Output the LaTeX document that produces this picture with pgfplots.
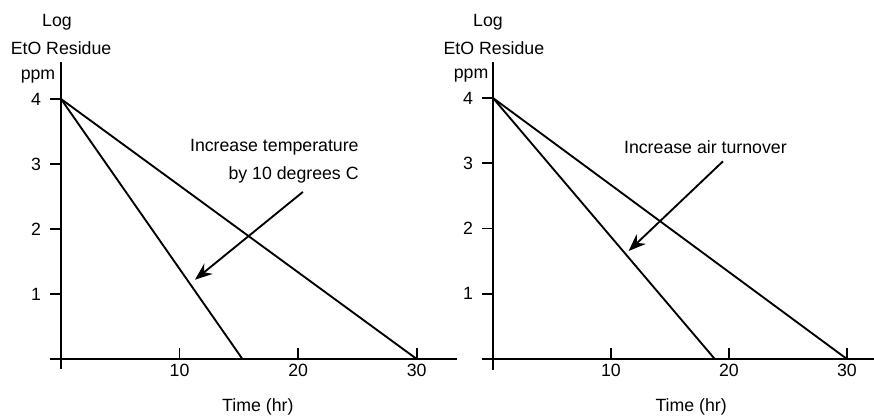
\documentclass[border=0pt]{standalone}
\usepackage{fontspec}
\setmainfont{Liberation Sans}
\usepackage{pgfplots}
\pgfplotsset{compat=1.18}
\usetikzlibrary{arrows.meta}

\newcommand{\lbl}{\fontsize{13.3}{15}\selectfont}

\pgfplotsset{
  eto/.style={
    scale only axis,
    axis lines=middle,
    axis line style={-, line width=1.3pt, black},
    clip=false,
    xtick={10,20,30},
    ytick={1,2,3,4},
    major tick length=8pt,
    tick style={line width=1.3pt, black},
    xtick style={yshift=4pt},
    ytick style={xshift=-4pt},
    xticklabel style={yshift=4pt},
    yticklabel style={xshift=-7.5pt},
    /pgf/number format/assume math mode=true,
    tick label style={font=\lbl, text=black},
  },
  decay/.style={black, line width=1.4pt, mark=none},
}
\tikzset{
  note/.style={font=\lbl, text=black},
  pointer/.style={line width=1.4pt, -{Stealth[length=13pt, width=10pt]}},
}

\begin{document}
\begin{tikzpicture}
\path[use as bounding box] (0,0) rectangle (655.5pt,312pt);

% left panel: temperature
\begin{axis}[eto,
  at={(37.5pt,35.25pt)}, anchor=south west,
  width=305.25pt, height=230.25pt,
  xmin=-0.93, xmax=33.4, ymin=-0.154, ymax=4.569]
\addplot[decay] coordinates {(0,4) (30,0)};
\addplot[decay] coordinates {(0,4) (15.3,0)};
\node[note] at (axis cs:-0.34,5.18) {Log};
\node[note] at (axis cs:0,4.78) {EtO Residue};
\node[note] at (axis cs:-1.94,4.35) {ppm};
\node[note] at (axis cs:16.6,-0.74) {Time (hr)};
\node[note, anchor=east] at (axis cs:25.5,3.25) {Increase temperature};
\node[note, anchor=east] at (axis cs:25.5,2.83) {by 10 degrees C};
\draw[pointer] (axis cs:20.4,2.57) -- (axis cs:11.3,1.22);
\end{axis}

% right panel: air turnover
\begin{axis}[eto,
  at={(361.5pt,34.5pt)}, anchor=south west,
  width=294pt, height=231pt,
  xmin=-0.93, xmax=32.3, ymin=-0.169, ymax=4.552]
\addplot[decay] coordinates {(0,4) (30,0)};
\addplot[decay] coordinates {(0,4) (18.8,0)};
\node[note] at (axis cs:-0.42,5.16) {Log};
\node[note] at (axis cs:0.08,4.77) {EtO Residue};
\node[note] at (axis cs:-1.86,4.34) {ppm};
\node[note] at (axis cs:16.8,-0.736) {Time (hr)};
\node[note, anchor=east] at (axis cs:25.3,3.25) {Increase air turnover};
\draw[pointer] (axis cs:19.5,3.03) -- (axis cs:11.5,1.655);
\end{axis}
\end{tikzpicture}
\end{document}
